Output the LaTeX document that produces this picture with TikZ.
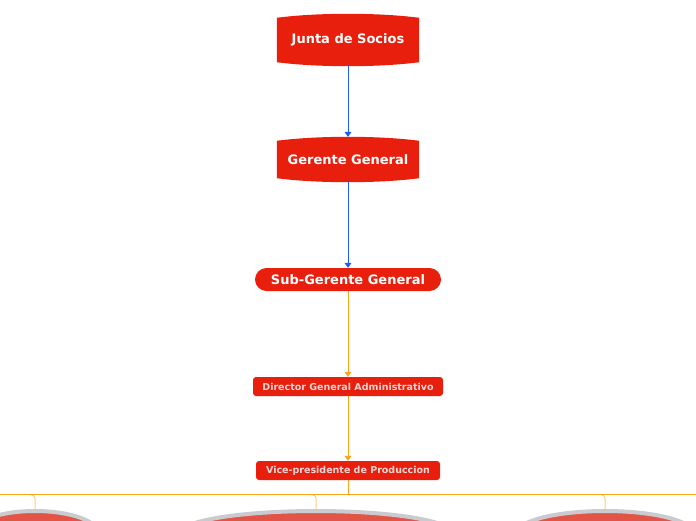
\documentclass[tikz,border=0pt]{standalone}
\usepackage{fontspec}
\setmainfont{DejaVu Sans}
\usetikzlibrary{arrows.meta,calc,shapes.geometric}

\definecolor{boxred}{HTML}{E81F0D}
\definecolor{linkblue}{HTML}{1E5BFF}
\definecolor{linkorange}{HTML}{FFA31A}
\definecolor{branchorange}{HTML}{FFCB85}
\definecolor{rimgray}{HTML}{C9CBD1}
\definecolor{leafred}{HTML}{E25445}
\definecolor{paletext}{HTML}{F2D6D6}

\begin{document}
\begin{tikzpicture}[x=1pt,y=-1pt,>={Triangle[width=7pt,length=5pt]},
    every node/.style={inner sep=0,font=\bfseries\fontsize{13}{15}\selectfont,text=white},
    barrel/.style={minimum width=142pt},
    pill/.style={fill=boxred,rounded corners=11.5pt,minimum width=186pt,minimum height=23pt},
    post/.style={fill=boxred,rounded corners=3pt,minimum height=19pt,text=paletext,
      font=\bfseries\fontsize{9.5}{11}\selectfont},
    leaf/.style={ellipse,draw=rimgray,line width=4pt,fill=leafred,minimum height=44pt},
    bluelink/.style={->,linkblue,line width=1pt},
    orangelink/.style={->,linkorange,line width=1pt},
    branch/.style={branchorange,line width=1pt,rounded corners=4pt}]

  \useasboundingbox (0,0) rectangle (696,520);
  \clip (0,0) rectangle (696,520);

  % red barrels behind the two top nodes
  \node[barrel,minimum height=52pt] (JUNTA) at (348,40) {\phantom{Junta de Socios}};
  \node[barrel,minimum height=45pt] (GERENTE) at (348,159.5) {\phantom{Gerente General}};
  \foreach \n in {JUNTA,GERENTE}
    \fill[boxred] ($(\n.north west)+(0,4)$) .. controls +(40,-5.33) and +(-40,-5.33) .. ($(\n.north east)+(0,4)$)
      -- ($(\n.south east)+(0,-4)$) .. controls +(-40,5.33) and +(40,5.33) .. ($(\n.south west)+(0,-4)$) -- cycle;
  \node at (JUNTA) {Junta de Socios};
  \node at (GERENTE) {Gerente General};

  \node[pill] (SUB) at (348,279.5) {Sub-Gerente General};
  \node[post,minimum width=190pt] (DIRECTOR) at (348,386.5) {Director General Administrativo};
  \node[post,minimum width=184pt] (VICE) at (348,470.5) {Vice-presidente de Produccion};

  \node[leaf,minimum width=126pt] (AREA0) at (35,533) {};
  \node[leaf,minimum width=272pt] (AREA1) at (316,533) {};
  \node[leaf,minimum width=176pt] (AREA2) at (605,533) {};

  \draw[bluelink] (JUNTA) -- (GERENTE);
  \draw[bluelink] (GERENTE) -- (SUB);
  \draw[orangelink] (SUB) -- (DIRECTOR);
  \draw[orangelink] (DIRECTOR) -- (VICE);

  \coordinate (BUSL) at (0,494.5);
  \coordinate (BUSR) at (696,494.5);
  \foreach \i in {0,1,2}
    \draw[branch] ($(AREA\i.north |- BUSL)+(-6,0)$) -| (AREA\i.north);
  \draw[linkorange,line width=1.5pt] (BUSL) -- (BUSR);
  \draw[linkorange,line width=1pt] (VICE) -- (VICE.south |- BUSL);

\end{tikzpicture}
\end{document}
